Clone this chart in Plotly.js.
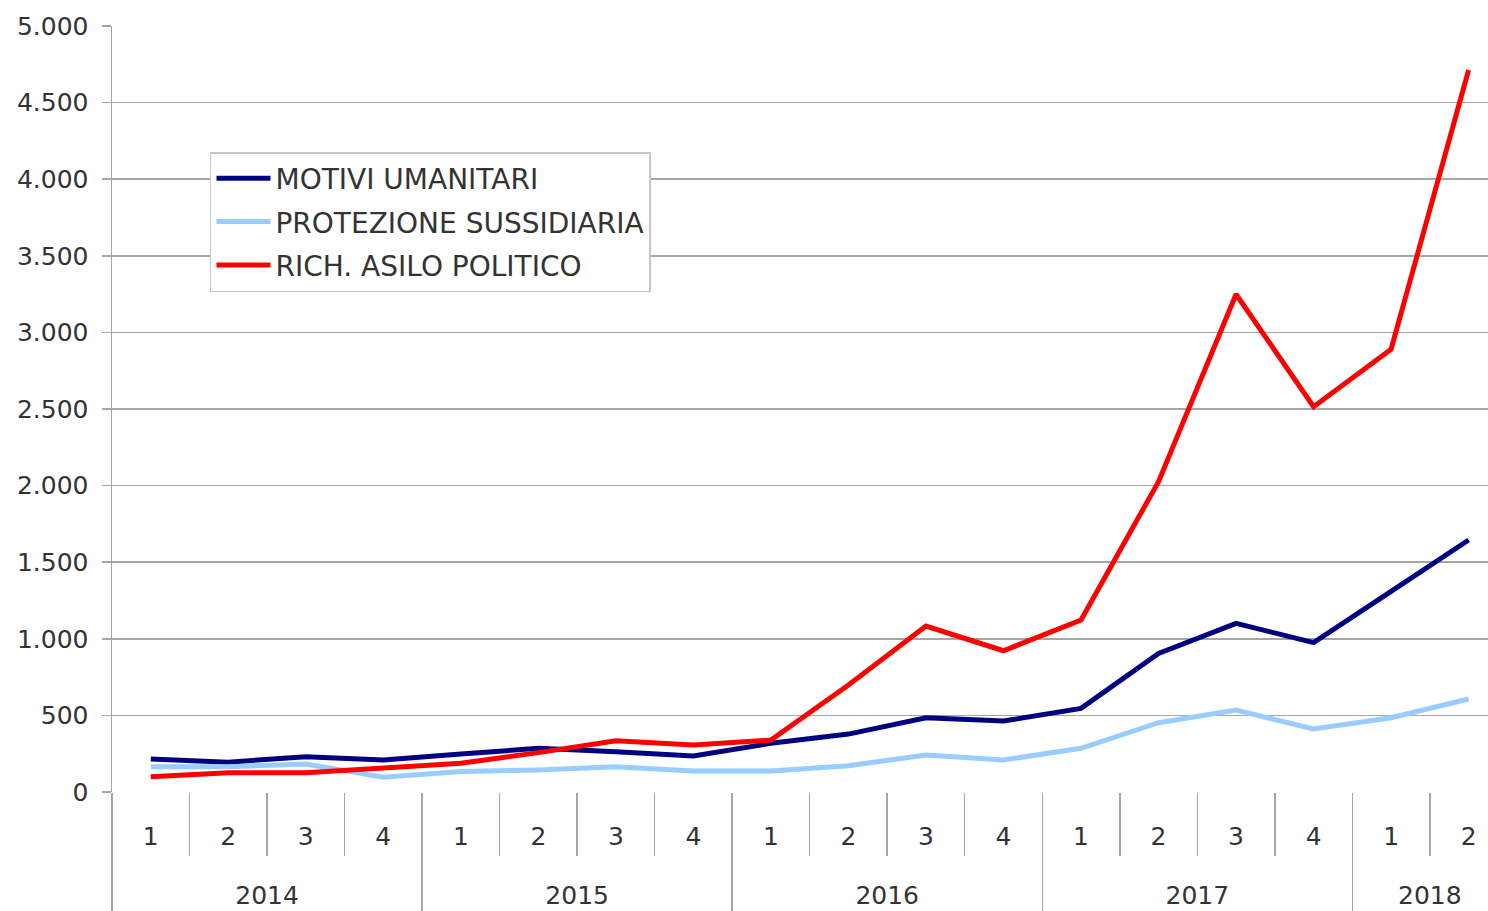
<!DOCTYPE html>
<html>
<head>
<meta charset="utf-8">
<script src="https://cdn.plot.ly/plotly-3.0.1.min.js"></script>
<style>
html,body{margin:0;padding:0;background:#fff;overflow:hidden;}
#chart{width:1488px;height:911px;}
</style>
</head>
<body>
<div id="chart"></div>
<script>
const years = ['2014','2014','2014','2014','2015','2015','2015','2015','2016','2016','2016','2016','2017','2017','2017','2017','2018','2018'];
const quarters = ['1','2','3','4','1','2','3','4','1','2','3','4','1','2','3','4','1','2'];
const motiviUmanitari = [215,195,230,209,248,285,263,235,318,378,485,463,546,905,1101,975,1310,1645];
const protezioneSussidiaria = [165,165,183,96,133,144,165,137,137,172,241,209,285,452,535,411,485,607];
const richAsiloPolitico = [100,126,126,155,187,257,335,307,339,698,1083,922,1123,2026,3249,2515,2890,4713];

const seriesNames = ['MOTIVI UMANITARI','PROTEZIONE SUSSIDIARIA','RICH. ASILO POLITICO'];
const seriesColors = ['#000080','#99CCFF','#FF0000'];
const seriesValues = [motiviUmanitari, protezioneSussidiaria, richAsiloPolitico];

const FONT = '"DejaVu Sans", Verdana, sans-serif';
const TXT = '#333333';
const GRID = '#A6A6A6';

// category positions derived from the data
const idx = quarters.map((q, i) => i);
const quarterBounds = idx.map(i => i - 0.5);
const yearNames = [], yearCenters = [], yearBounds = [];
years.forEach((y, i) => {
  if (i === 0 || years[i - 1] !== y) { yearNames.push(y); yearBounds.push(i - 0.5); }
});
yearNames.forEach(y => {
  const members = idx.filter(i => years[i] === y);
  yearCenters.push((members[0] + members[members.length - 1]) / 2);
});

const traces = seriesValues.map((vals, i) => ({
  type: 'scatter',
  mode: 'lines',
  x: idx,
  y: vals,
  name: seriesNames[i],
  legendgroup: 'g' + i,
  line: {color: seriesColors[i], width: 5, shape: 'linear'},
  hoverinfo: 'y'
}));
// empty carriers so the helper axes (ticks, dividers, year row) get drawn
['x2', 'x3', 'x4'].forEach(ax => traces.push({
  type: 'scatter', mode: 'lines', x: idx, y: idx.map(() => null),
  xaxis: ax, yaxis: 'y', showlegend: false, hoverinfo: 'skip'
}));

const XR = [-0.5, 17.25];
const baseX = {range: XR, autorange: false, showgrid: false, zeroline: false, showline: false, fixedrange: true};

const layout = {
  width: 1488,
  height: 911,
  margin: {l: 112, r: 0, t: 26, b: 119, pad: 0},
  paper_bgcolor: '#ffffff',
  plot_bgcolor: '#ffffff',
  separators: ',.',
  font: {family: FONT, size: 25, color: TXT},
  showlegend: true,
  legend: {
    x: 0.0712, y: 0.8355, xanchor: 'left', yanchor: 'top',
    bgcolor: '#ffffff', bordercolor: '#C8C8C8', borderwidth: 1.5,
    font: {family: FONT, size: 28, color: TXT},
    itemwidth: 54,
    tracegroupgap: 4
  },
  // quarter labels
  xaxis: Object.assign({}, baseX, {
    tickmode: 'array', tickvals: idx, ticktext: quarters,
    ticks: '', ticklabelstandoff: 27,
    tickfont: {family: FONT, size: 25, color: TXT}
  }),
  // short ticks between quarters
  xaxis2: Object.assign({}, baseX, {
    overlaying: 'x', side: 'bottom', anchor: 'y',
    tickmode: 'array', tickvals: quarterBounds,
    ticks: 'outside', ticklen: 63, tickwidth: 1.5, tickcolor: GRID,
    showticklabels: false
  }),
  // long dividers between years
  xaxis3: Object.assign({}, baseX, {
    overlaying: 'x', side: 'bottom', anchor: 'y',
    tickmode: 'array', tickvals: yearBounds,
    ticks: 'outside', ticklen: 119, tickwidth: 1.5, tickcolor: GRID,
    showticklabels: false
  }),
  // year labels
  xaxis4: Object.assign({}, baseX, {
    overlaying: 'x', side: 'bottom', anchor: 'y',
    tickmode: 'array', tickvals: yearCenters, ticktext: yearNames,
    ticks: '', ticklabelstandoff: 86,
    tickfont: {family: FONT, size: 25, color: TXT}
  }),
  yaxis: {
    range: [0, 5000],
    dtick: 500,
    tick0: 0,
    tickformat: ',',
    showgrid: true,
    gridcolor: GRID,
    gridwidth: 1.5,
    zeroline: false,
    showline: true,
    linecolor: GRID,
    linewidth: 1.5,
    ticks: 'outside',
    ticklen: 9,
    tickcolor: GRID,
    tickwidth: 1.5,
    ticklabelstandoff: 8,
    tickfont: {family: FONT, size: 25, color: TXT}
  }
};

Plotly.newPlot('chart', traces, layout, {displayModeBar: false, staticPlot: true});
</script>
</body>
</html>
